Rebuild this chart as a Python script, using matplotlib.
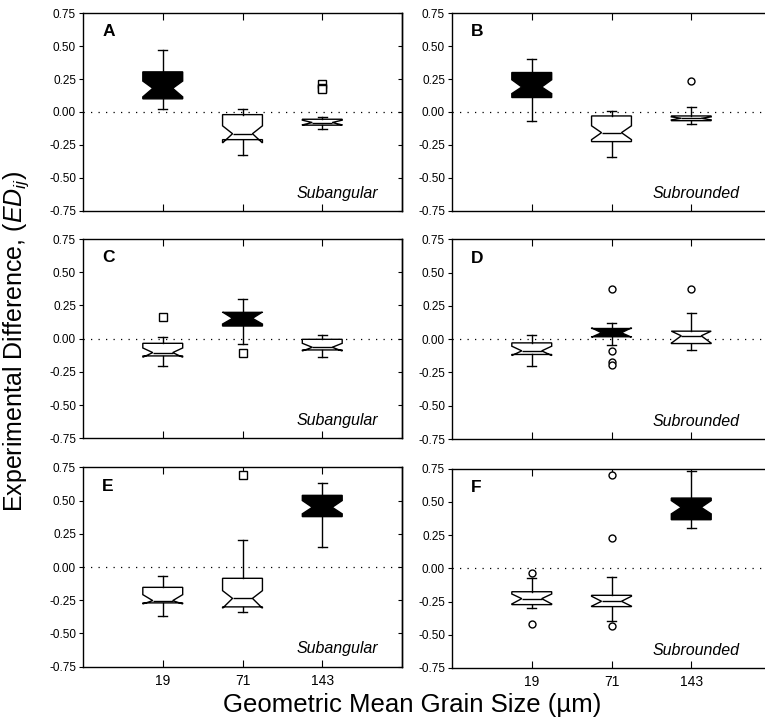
import matplotlib
matplotlib.use("Agg")
import matplotlib.pyplot as plt
from matplotlib.ticker import FixedLocator, FormatStrFormatter, NullFormatter

plt.rcParams['font.family'] = ['Liberation Sans', 'DejaVu Sans']
plt.rcParams['mathtext.fontset'] = 'custom'
plt.rcParams['mathtext.rm'] = 'Liberation Sans'
plt.rcParams['mathtext.it'] = 'Liberation Sans:italic'

# ---------------- data ----------------
grain_sizes = ["19", "71", "143"]
panel_letters = ["A", "B", "C", "D", "E", "F"]
shape_labels = ["Subangular", "Subrounded", "Subangular", "Subrounded", "Subangular", "Subrounded"]

# rows: panels A..F ; columns: 19, 71, 143 um
whishi = [[0.47, 0.02, -0.04],
          [0.40, 0.01, 0.04],
          [0.015, 0.30, 0.028],
          [0.03, 0.125, 0.193],
          [-0.07, 0.203, 0.632],
          [-0.073, -0.068, 0.732]]
q3 = [[0.305, -0.02, -0.055],
      [0.30, -0.03, -0.03],
      [-0.035, 0.198, -0.005],
      [-0.028, 0.08, 0.06],
      [-0.153, -0.085, 0.539],
      [-0.176, -0.203, 0.529]]
cihi = [[0.235, -0.105, -0.062],
        [0.245, -0.105, -0.037],
        [-0.07, 0.20, -0.035],
        [-0.053, 0.085, 0.06],
        [-0.208, -0.178, 0.50],
        [-0.193, -0.21, 0.51]]
med = [[0.18, -0.165, -0.08],
       [0.19, -0.157, -0.048],
       [-0.105, 0.153, -0.065],
       [-0.088, 0.048, 0.025],
       [-0.253, -0.236, 0.449],
       [-0.228, -0.248, 0.459]]
cilo = [[0.115, -0.235, -0.098],
        [0.14, -0.21, -0.06],
        [-0.14, 0.11, -0.093],
        [-0.123, 0.015, -0.03],
        [-0.278, -0.31, 0.40],
        [-0.268, -0.285, 0.41]]
q1 = [[0.10, -0.21, -0.10],
      [0.11, -0.225, -0.066],
      [-0.13, 0.095, -0.085],
      [-0.115, 0.018, -0.033],
      [-0.27, -0.30, 0.379],
      [-0.273, -0.288, 0.366]]
whislo = [[0.02, -0.33, -0.13],
          [-0.066, -0.34, -0.09],
          [-0.203, -0.04, -0.14],
          [-0.203, -0.045, -0.08],
          [-0.37, -0.34, 0.148],
          [-0.30, -0.394, 0.301]]
fliers = [[[], [], [0.215, 0.18, 0.175]],
          [[], [], [0.238]],
          [[0.16], [-0.105], []],
          [[], [0.38, -0.09, -0.175, -0.195], [0.38]],
          [[], [0.695], []],
          [[-0.033, -0.42], [0.70, 0.226, -0.434], []]]
filled = [[True, False, False],
          [True, False, False],
          [False, True, False],
          [False, True, False],
          [False, False, True],
          [False, False, True]]

y_ticks = [-0.75, -0.50, -0.25, 0.00, 0.25, 0.50, 0.75]

# ---------------- layout ----------------
W, H = 765, 718
fig = plt.figure(figsize=(W / 100, H / 100), dpi=100)

col_left = [83, 452]
col_width = 319
row_top = [[13.3, 13.3], [239, 239.3], [467.3, 468.7]]
row_bot = [[210.7, 210.7], [438.3, 439], [666.7, 668]]

positions = [1, 2, 3]

for i in range(6):
    r, c = divmod(i, 2)
    left = col_left[c] / W
    bottom = 1 - row_bot[r][c] / H
    height = (row_bot[r][c] - row_top[r][c]) / H
    ax = fig.add_axes([left, bottom, col_width / W, height])

    stats = []
    for j in range(3):
        stats.append(dict(med=med[i][j], q1=q1[i][j], q3=q3[i][j],
                          whislo=whislo[i][j], whishi=whishi[i][j],
                          cilo=cilo[i][j], cihi=cihi[i][j],
                          fliers=fliers[i][j], label=grain_sizes[j]))

    marker = 's' if c == 0 else 'o'
    msize = 6 if c == 0 else 5
    art = ax.bxp(stats, positions=positions, widths=0.5, shownotches=True,
                 patch_artist=True, capwidths=0.11,
                 boxprops=dict(linewidth=1.0, edgecolor='black', facecolor='white'),
                 whiskerprops=dict(linewidth=1.0, color='black'),
                 capprops=dict(linewidth=1.0, color='black'),
                 medianprops=dict(linewidth=1.0, color='black'),
                 flierprops=dict(marker=marker, markersize=msize, markerfacecolor='white',
                                 markeredgecolor='black', markeredgewidth=1.0,
                                 linestyle='none'),
                 zorder=3)
    for j, box in enumerate(art['boxes']):
        if filled[i][j]:
            box.set_facecolor('black')

    ax.axhline(0, color='black', linewidth=0.9, linestyle=(0, (1, 5)), zorder=1)

    ax.set_xlim(0, 4)
    ax.set_ylim(-0.75, 0.75)
    ax.yaxis.set_major_locator(FixedLocator(y_ticks))
    ax.yaxis.set_major_formatter(FormatStrFormatter('%.2f'))
    ax.set_xticks(positions)
    if r == 2:
        ax.set_xticklabels(grain_sizes, fontsize=10)
    else:
        ax.set_xticklabels([])
    ax.tick_params(axis='y', which='both', left=True, right=False, direction='out',
                   length=3, labelsize=8.5, width=0.8, pad=2)
    ax.tick_params(axis='x', which='both', top=True, bottom=True, direction='in',
                   length=5, width=0.8, pad=5)
    sec = ax.secondary_yaxis('right')
    sec.set_yticks(y_ticks)
    sec.yaxis.set_major_formatter(NullFormatter())
    sec.tick_params(direction='in', length=3, width=0.8)
    sec.spines['right'].set_linewidth(1.0)
    for sp in ax.spines.values():
        sp.set_linewidth(1.0)

    ax.text(0.24, 0.665, panel_letters[i], fontsize=12.5, fontweight='bold',
            ha='left', va='top')
    ax.text(3.7 if c == 0 else 3.6, -0.65, shape_labels[i], fontsize=11.5,
            fontstyle='italic', ha='right', va='baseline')

fig.text(412 / W, 1 - 705 / H, "Geometric Mean Grain Size (µm)", fontsize=18.5,
         ha='center', va='center')
fig.text(16 / W, 1 - 341 / H, r"Experimental Difference, ($ED_{ij}$)", fontsize=18,
         ha='center', va='center', rotation=90)

fig.savefig("out.png", dpi=100)
